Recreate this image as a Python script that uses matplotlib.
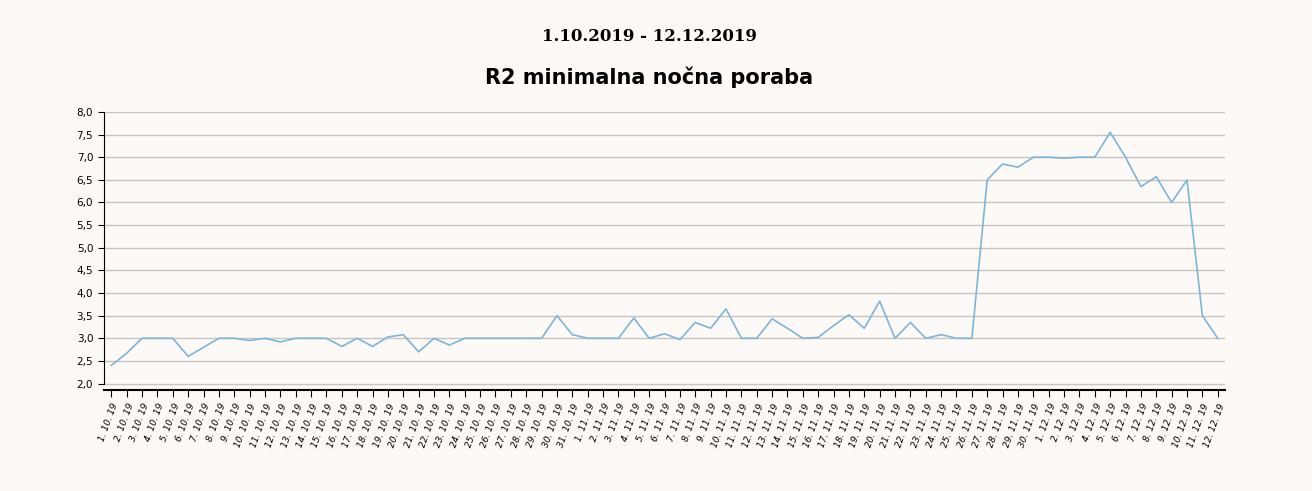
import matplotlib.pyplot as plt
import numpy as np

oct_vals = [2.4, 2.67, 3.0, 3.0, 3.0, 2.6, 2.8, 3.0, 3.0, 2.95, 3.0, 2.92, 3.0, 3.0, 3.0, 2.82,
            3.0, 2.82, 3.03, 3.08, 2.7, 3.0, 2.85, 3.0, 3.0, 3.0, 3.0, 3.0, 3.0, 3.5, 3.08]
nov_vals = [3.0, 3.0, 3.0, 3.45, 3.0, 3.1, 2.97, 3.35, 3.22, 3.65, 3.0, 3.0, 3.43, 3.22, 3.0,
            3.02, 3.28, 3.52, 3.22, 3.82, 3.0, 3.35, 3.0, 3.08, 3.0, 3.0, 6.5, 6.85, 6.78, 7.0]
dec_vals = [7.0, 6.98, 7.0, 7.0, 7.55, 7.0, 6.35, 6.57, 6.0, 6.5, 3.5, 3.0]

labels = ([f"{d}. 10. 19" for d in range(1, 32)] +
          [f"{d}. 11. 19" for d in range(1, 31)] +
          [f"{d}. 12. 19" for d in range(1, 13)])
values = oct_vals + nov_vals + dec_vals
x = np.arange(len(values))

bg = "#fdf9f6"
fig = plt.figure(figsize=(13.12, 4.91), dpi=100, facecolor=bg)
ax = fig.add_axes([0.079, 0.205, 0.855, 0.567], facecolor=bg)

ax.plot(x, values, color="#7fb5d9", linewidth=1.2)

ax.set_xlim(-0.5, len(values) - 0.5)
ax.set_ylim(1.85, 8.0)
yt = np.arange(2.0, 8.01, 0.5)
ax.set_yticks(yt)
ax.set_yticklabels([f"{v:.1f}".replace(".", ",") for v in yt], fontsize=7.5)
for v in yt:
    ax.axhline(v, color="#c8c4c2", linewidth=1, zorder=0)

ax.set_xticks(x)
ax.set_xticklabels(labels, rotation=70, ha="right", rotation_mode="anchor",
                   fontsize=6.5, fontstyle="italic")
ax.tick_params(axis="x", length=5, direction="out")
ax.tick_params(axis="y", length=4)

for s in ["top", "right"]:
    ax.spines[s].set_visible(False)
ax.spines["left"].set_bounds(2.0, 8.0)
ax.spines["bottom"].set_linewidth(1.5)

fig.text(0.495, 0.925, "1.10.2019 - 12.12.2019", ha="center", va="center",
         fontsize=12, fontweight="bold", family="DejaVu Serif")
fig.text(0.495, 0.843, "R2 minimalna nočna poraba", ha="center", va="center",
         fontsize=15, fontweight="bold")

fig.savefig("out.png", facecolor=bg)
